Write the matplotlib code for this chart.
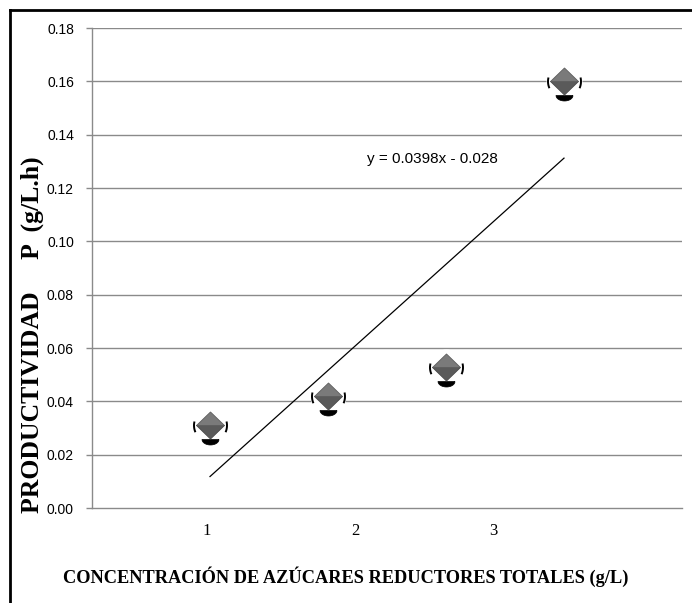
import numpy as np
import matplotlib
matplotlib.use("Agg")
import matplotlib.pyplot as plt
from matplotlib.path import Path
from matplotlib.lines import Line2D

# ---- data ----
x_vals = [1, 2, 3, 4]
productividad = [0.031, 0.042, 0.053, 0.160]
x_tick_pos = [0.975, 2.23, 3.405]
x_tick_labels = ["1", "2", "3"]
y_ticks = [0.00, 0.02, 0.04, 0.06, 0.08, 0.10, 0.12, 0.14, 0.16, 0.18]
eq_text = "y = 0.0398x - 0.028"
x_title = "CONCENTRACIÓN DE AZÚCARES REDUCTORES TOTALES (g/L)"
y_title = "PRODUCTIVIDAD     P  (g/L.h)"

DPI = 100
fig = plt.figure(figsize=(6.92, 6.03), dpi=DPI)
fig.patch.set_facecolor("white")
ax = fig.add_axes([92/692, 1-508/603, (682-92)/692, (508-28)/603])
ax.set_xlim(0, 5)
ax.set_ylim(0, 0.18)

grid_c = "#8a8a8a"
for s in ["top", "right"]:
    ax.spines[s].set_visible(False)
for s in ["left", "bottom"]:
    ax.spines[s].set_color(grid_c)
    ax.spines[s].set_linewidth(1.0)

ax.set_yticks(y_ticks)
ax.set_yticklabels([f"{v:.2f}" for v in y_ticks], fontfamily="Liberation Sans", fontsize=10)
ax.tick_params(axis="y", length=4, width=1.0, color=grid_c, pad=9)
ax.set_xticks(x_tick_pos)
ax.set_xticklabels(x_tick_labels, fontfamily="Liberation Serif", fontsize=12)
ax.tick_params(axis="x", length=0, pad=11)
for v in y_ticks[1:]:
    ax.axhline(v, color=grid_c, lw=1.0, zorder=1)

# trend line
slope, intercept = np.polyfit(x_vals, productividad, 1)
xt = np.array([x_vals[0], x_vals[-1]])
ax.plot(xt, slope*xt + intercept, color="black", lw=0.9, zorder=2)
ax.text(2.33, 0.131, eq_text, fontfamily="Liberation Sans", fontsize=11,
        va="center", ha="left", zorder=5)

def ms_for(verts):
    return 2*np.max(np.abs(verts))*72/DPI

def mk(verts, codes=None):
    v = np.array(verts, float)
    return Path(v, codes), ms_for(v)

# white background disc
ax.plot(x_vals, productividad, ls="none", marker="o", ms=36*72/DPI,
        mfc="white", mec="none", zorder=3)

# brackets (arcs)
r = 16.5
thL = np.radians(np.linspace(166, 204, 12))
thR = np.radians(np.linspace(-24, 14, 12))
vL = np.c_[r*np.cos(thL), r*np.sin(thL)]
vR = np.c_[r*np.cos(thR), r*np.sin(thR)]
verts = np.vstack([vL, vR])
codes = [Path.MOVETO] + [Path.LINETO]*11 + [Path.MOVETO] + [Path.LINETO]*11
pb, msb = mk(verts, codes)
ax.plot(x_vals, productividad, ls="none", marker=pb, ms=msb, mfc="none",
        mec="black", mew=1.4, zorder=4)

# shadow below
th = np.radians(np.linspace(0, -180, 20))
vs = np.c_[8.5*np.cos(th), -14 + 5.5*np.sin(th)]
vs = np.vstack([vs, vs[:1]])
ps, mss = mk(vs)
ax.plot(x_vals, productividad, ls="none", marker=ps, ms=mss, mfc="black",
        mec="black", mew=0.5, zorder=4)

# diamond: upper (lighter) and lower (darker) halves
up = [(-14, 0), (0, 13.5), (14, 0), (-14, 0)]
lo = [(-14, 0), (0, -13.5), (14, 0), (-14, 0)]
pu, msu = mk(up)
pl, msl = mk(lo)
ax.plot(x_vals, productividad, ls="none", marker=pl, ms=msl, mfc="#5a5a5a",
        mec="#4a4a4a", mew=0.6, zorder=5)
ax.plot(x_vals, productividad, ls="none", marker=pu, ms=msu, mfc="#7a7a7a",
        mec="#5e5e5e", mew=0.6, zorder=5)

# titles
fig.text(346/692, 1-577/603, x_title, fontfamily="Liberation Serif",
         fontweight="bold", fontsize=13.2, ha="center", va="center")
fig.text(32/692, 1-335/603, y_title, fontfamily="Liberation Serif",
         fontweight="bold", fontsize=18.5, ha="center", va="center", rotation=90)

# figure frame (left and top)
fig.add_artist(Line2D([10/692, 10/692], [0, 1-10/603], color="black", lw=2.0,
                      transform=fig.transFigure))
fig.add_artist(Line2D([10/692, 1], [1-10/603, 1-10/603], color="black", lw=2.0,
                      transform=fig.transFigure))

fig.savefig("out.png", dpi=DPI, facecolor="white")
